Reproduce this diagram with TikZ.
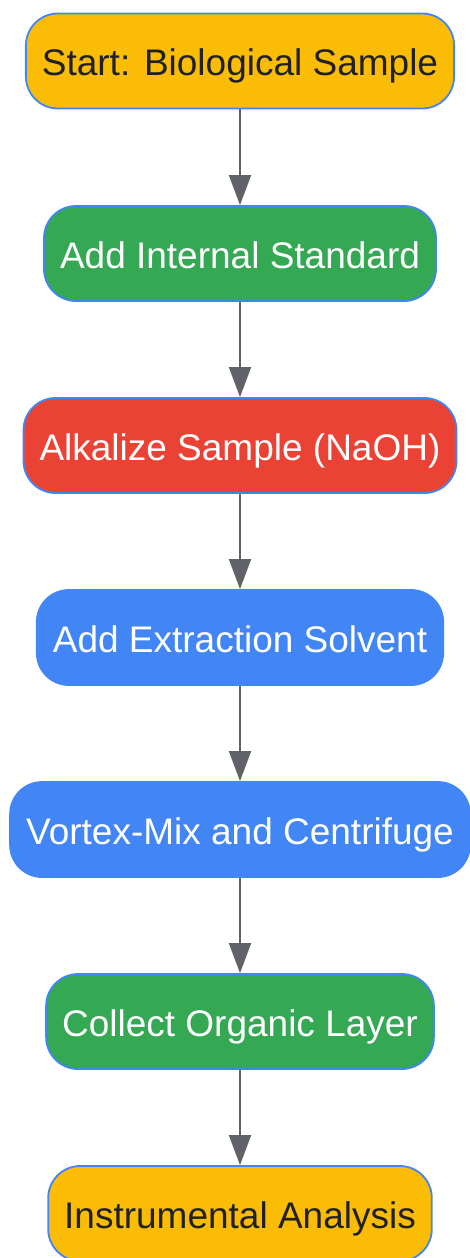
\documentclass[tikz,border=0pt]{standalone}
\usepackage{fontspec}
\setmainfont{Liberation Sans}
\usetikzlibrary{positioning,arrows.meta}
\definecolor{gyellow}{HTML}{FBBC05}
\definecolor{ggreen}{HTML}{34A853}
\definecolor{gred}{HTML}{EA4335}
\definecolor{gblue}{HTML}{4285F4}
\definecolor{gdark}{HTML}{202124}
\definecolor{ggray}{HTML}{5F6368}
\tikzset{
  stepnode/.style={shape=rectangle,rounded corners=32pt,draw=gblue,
    line width=1.8pt,minimum height=95pt,inner xsep=16pt,
    text height=29pt,text depth=0pt,
    font=\fontsize{37}{40}\selectfont},
  yellownode/.style={stepnode,fill=gyellow,text=gdark},
  greennode/.style={stepnode,fill=ggreen,text=white},
  rednode/.style={stepnode,fill=gred,text=white},
  bluenode/.style={stepnode,fill=gblue,text=white},
  flow/.style={draw=ggray,line width=2pt,
    -{Triangle[width=22pt,length=30pt]}}
}
\begin{document}
\begin{tikzpicture}[x=1pt,y=1pt]
    \useasboundingbox (0,0) rectangle (469,-1258);
    \node (start) [yellownode] at (240,-61) {Start: Biological Sample};
    \node (istd) [greennode] at (240,-253.5) {Add Internal Standard};
    \node (alkal) [rednode] at (240,-445.5) {Alkalize Sample (NaOH)};
    \node (solv) [bluenode] at (240,-637.5) {Add Extraction Solvent};
    \node (vortex) [bluenode] at (240,-829.5) {Vortex-Mix and Centrifuge};
    \node (collect) [greennode] at (240,-1021.5) {Collect Organic Layer};
    \node (analysis) [yellownode] at (240,-1213.5) {Instrumental Analysis};
    \draw [flow] (start) -- (istd);
    \draw [flow] (istd) -- (alkal);
    \draw [flow] (alkal) -- (solv);
    \draw [flow] (solv) -- (vortex);
    \draw [flow] (vortex) -- (collect);
    \draw [flow] (collect) -- (analysis);
\end{tikzpicture}
\end{document}
